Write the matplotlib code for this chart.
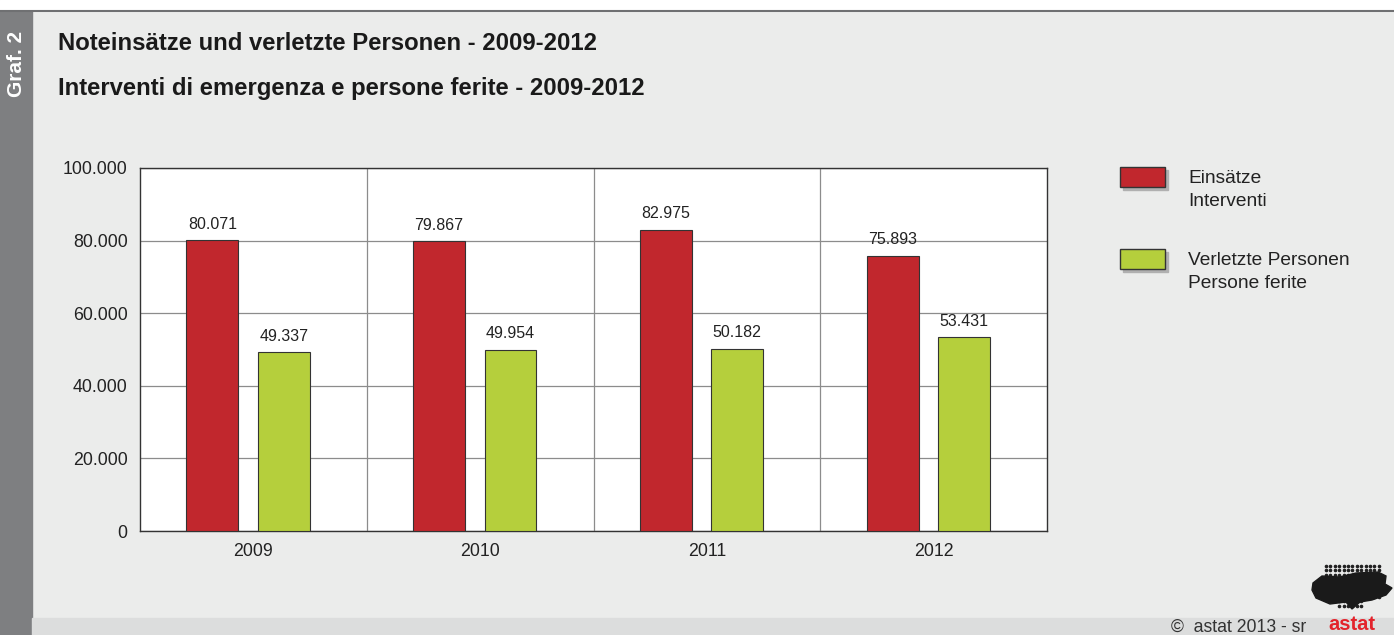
import matplotlib.pyplot as plt
import matplotlib.patches as mpatches
import numpy as np

plt.rcParams['font.family'] = ['Liberation Sans', 'DejaVu Sans']

years = ['2009', '2010', '2011', '2012']
einsaetze = [80071, 79867, 82975, 75893]
verletzte = [49337, 49954, 50182, 53431]
labels_e = ['80.071', '79.867', '82.975', '75.893']
labels_v = ['49.337', '49.954', '50.182', '53.431']
yticks = [0, 20000, 40000, 60000, 80000, 100000]
ytick_labels = ['0', '20.000', '40.000', '60.000', '80.000', '100.000']

red = '#c1272d'
green = '#b5cf3c'
bg = '#ebeceb'

W, H = 1394, 635
fig = plt.figure(figsize=(W / 100, H / 100), dpi=100)
fig.patch.set_facecolor(bg)

# frame decorations
fig.patches.append(mpatches.Rectangle((0, 1 - 11 / H), 1, 11 / H, transform=fig.transFigure,
                                      color='white', zorder=0))
fig.add_artist(plt.Line2D([0, 1], [1 - 11 / H, 1 - 11 / H], transform=fig.transFigure,
                          color='#6f7072', lw=1.5))
fig.patches.append(mpatches.Rectangle((0, 0), 32 / W, 1 - 11 / H, transform=fig.transFigure,
                                      color='#7e7f81', zorder=0))
fig.patches.append(mpatches.Rectangle((32 / W, 0), 1, 17 / H, transform=fig.transFigure,
                                      color='#dcdddd', zorder=0))
fig.text(16 / W, 1 - 64 / H, 'Graf. 2', rotation=90, color='white', fontsize=15,
         fontweight='bold', ha='center', va='center')

fig.text(58 / W, 1 - 44 / H, 'Noteinsätze und verletzte Personen - 2009-2012',
         fontsize=17.2, fontweight='bold', color='#1a1a1a', va='center')
fig.text(58 / W, 1 - 88 / H, 'Interventi di emergenza e persone ferite - 2009-2012',
         fontsize=17.2, fontweight='bold', color='#1a1a1a', va='center')

ax = fig.add_axes([140 / W, (H - 531) / H, 907 / W, 363 / H])
ax.set_facecolor('white')
x = np.arange(len(years))
bw = 0.229
ax.bar(x - 0.181, einsaetze, bw, color=red, edgecolor='#333333', lw=0.8, zorder=3)
ax.bar(x + 0.134, verletzte, bw, color=green, edgecolor='#333333', lw=0.8, zorder=3)
for i in range(len(years)):
    ax.text(x[i] - 0.181, einsaetze[i] + 2300, labels_e[i], ha='center', va='bottom',
            fontsize=11.5, color='#222222')
    ax.text(x[i] + 0.134, verletzte[i] + 2300, labels_v[i], ha='center', va='bottom',
            fontsize=11.5, color='#222222')

ax.set_xlim(-0.5, len(years) - 0.5)
ax.set_ylim(0, 100000)
ax.set_yticks(yticks)
ax.set_yticklabels(ytick_labels)
ax.set_xticks(x)
ax.set_xticklabels(years)
for xb in np.arange(0.5, len(years) - 0.5, 1):
    ax.axvline(xb, color='#8c8c8c', lw=0.9, zorder=1)
ax.yaxis.grid(True, color='#8c8c8c', lw=0.9, zorder=1)
ax.tick_params(length=0, labelsize=12.8, colors='#222222', pad=9)
for s in ax.spines.values():
    s.set_color('#333333')
    s.set_linewidth(1)

# legend
leg_items = [(red, 'Einsätze\nInterventi', 167), (green, 'Verletzte Personen\nPersone ferite', 249)]
for col, txt, ytop in leg_items:
    fig.patches.append(mpatches.Rectangle((1123 / W, 1 - (ytop + 23) / H), 45 / W, 20 / H,
                                          transform=fig.transFigure, color='#b0b0b0', zorder=1))
    fig.patches.append(mpatches.Rectangle((1120 / W, 1 - (ytop + 20) / H), 45 / W, 20 / H,
                                          transform=fig.transFigure, facecolor=col,
                                          edgecolor='#333333', lw=1, zorder=2))
    fig.text(1188 / W, 1 - (ytop + 23) / H, txt, fontsize=13.8, color='#222222',
             va='center', linespacing=1.45)

# footer
fig.text(1306 / W, 1 - 627 / H, '©  astat 2013 - sr', fontsize=12.7, color='#333333',
         ha='right', va='center')
fig.text(1352 / W, 1 - 625 / H, 'astat', fontsize=14.5, fontweight='bold', color='#e3232b',
         ha='center', va='center')

# dotted logo
lx, ly = np.meshgrid(np.arange(1326, 1379, 4.4), np.arange(566, 610, 4.4))
lx = lx.ravel()
ly = ly.ravel()
keep = ~((ly > 600) & ((lx < 1338) | (lx > 1362)))
fig.add_artist(plt.Line2D(lx[keep] / W, 1 - ly[keep] / H, transform=fig.transFigure,
                          ls='none', marker='o', ms=1.6, color='#222222'))
blob = np.array([[1313, 583], [1322, 576], [1340, 577], [1356, 573], [1378, 572],
                 [1386, 576], [1385, 584], [1392, 588], [1386, 595], [1372, 600],
                 [1360, 602], [1352, 609], [1346, 602], [1330, 604], [1316, 598],
                 [1312, 590]])
fig.patches.append(mpatches.Polygon(np.column_stack([blob[:, 0] / W, 1 - blob[:, 1] / H]),
                                    closed=True, transform=fig.transFigure,
                                    color='#1a1a1a', zorder=2))

fig.savefig('out.png', dpi=100, facecolor=fig.get_facecolor())
